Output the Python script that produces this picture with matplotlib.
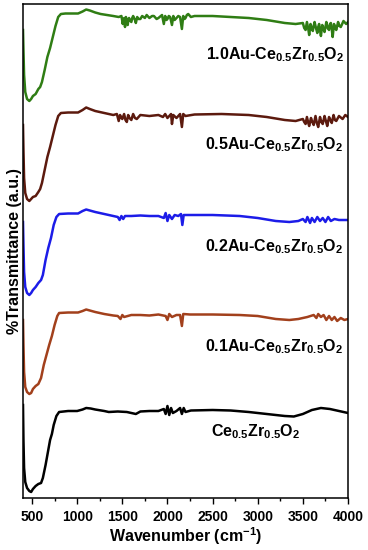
import numpy as np
import matplotlib
matplotlib.use("Agg")
import matplotlib.pyplot as plt
from matplotlib.ticker import MultipleLocator

plt.rcParams['font.family'] = ['Liberation Sans', 'DejaVu Sans']
plt.rcParams['font.weight'] = 'bold'
plt.rcParams['mathtext.fontset'] = 'custom'
plt.rcParams['mathtext.rm'] = 'Liberation Sans:bold'
plt.rcParams['mathtext.it'] = 'Liberation Sans:bold'
plt.rcParams['mathtext.bf'] = 'Liberation Sans:bold'

# Curves read as depth below the top of the frame (stacked, arbitrary units)
w_10 = [400, 405, 412, 425, 445, 470, 490, 510, 540, 570, 590, 610, 640, 670, 700, 730, 760, 790, 820, 870, 950, 1010, 1060, 1100, 1140, 1200, 1260, 1330, 1400, 1460,
        1490, 1500, 1505, 1510, 1515, 1522, 1530, 1535, 1540, 1550, 1560, 1568, 1575, 1590, 1600, 1610, 1620, 1640, 1650, 1665, 1680, 1700, 1720, 1750, 1770, 1800, 1830, 1850, 1880, 1900, 1940, 1960, 1975, 1990, 2000, 2015, 2030, 2050, 2065, 2080, 2100, 2120, 2140, 2160, 2175, 2190, 2200, 2215, 2230, 2260,
        2300, 2500, 2700, 2900, 3100, 3300, 3420, 3500, 3515, 3530, 3545, 3560, 3570, 3585, 3600, 3610, 3620, 3630, 3645, 3660, 3670, 3680, 3690, 3700, 3715, 3730, 3740, 3760, 3775, 3790, 3800, 3810, 3820, 3830, 3845, 3860, 3870, 3890, 3905, 3920, 3950, 3980, 4000]
d_10 = [30, 50, 75, 92, 99, 101, 99, 96, 94, 89, 87, 82, 70, 57, 48, 37, 26, 17, 14, 13.5, 13.5, 13.5, 11.5, 9.5, 10.5, 12.5, 14, 15, 16, 17,
        16, 21, 24, 19, 23, 18, 27, 20, 17, 22, 25, 19, 18, 21, 22, 18, 16, 20, 23, 17, 19, 19, 16, 18, 15, 18, 16, 16, 19, 18, 15, 24, 16, 20, 19, 16, 17, 25, 16, 20, 18, 16, 17, 29, 16, 19, 18, 15, 14, 17,
        16, 16, 17, 18, 20, 23, 24, 23, 28, 30, 22, 29, 35, 24, 29, 31, 26, 22, 28, 33, 27, 24, 30, 36, 25, 29, 32, 22, 28, 30, 24, 23, 29, 37, 24, 28, 30, 22, 26, 27, 21, 24, 22]

w_05 = [400, 405, 412, 425, 445, 470, 490, 510, 540, 570, 590, 610, 640, 670, 700, 730, 760, 790, 820, 900, 1010, 1060, 1100, 1140, 1200, 1300, 1400,
        1440, 1460, 1475, 1490, 1500, 1520, 1535, 1550, 1565, 1580, 1600, 1620, 1640, 1660, 1700, 1800, 1900, 1950, 1975, 2000, 2040, 2050, 2065, 2100, 2140, 2160, 2175, 2200,
        2300, 2600, 2900, 3100, 3300, 3420, 3500, 3515, 3530, 3545, 3560, 3570, 3590, 3605, 3620, 3640, 3655, 3670, 3690, 3705, 3720, 3740, 3755, 3770, 3790, 3805, 3820, 3840, 3855, 3870, 3900, 3940, 3970, 4000]
d_05 = [125, 150, 178, 193, 199, 201, 199, 197, 196, 192, 189, 183, 170, 157, 147, 136, 125, 116, 113, 112.5, 112.5, 110, 107.5, 109, 111, 113, 115,
        114, 121, 115, 118, 119, 114, 120, 122, 115, 118, 120, 114, 118, 119, 115, 116, 115, 117, 114, 118, 114, 124, 115, 118, 114, 127, 114, 116,
        114.5, 114, 115, 117, 120, 121, 119, 122, 124, 117, 123, 126, 118, 122, 125, 116, 123, 127, 117, 122, 124, 116, 121, 126, 117, 120, 123, 115, 120, 121, 116, 119, 115, 117]

w_02 = [400, 405, 412, 425, 445, 470, 490, 510, 540, 570, 600, 620, 650, 680, 710, 740, 770, 800, 900, 1010, 1060, 1100, 1140, 1200, 1300, 1400,
        1450, 1470, 1490, 1510, 1530, 1600, 1700, 1800, 1900, 1960, 1980, 2000, 2020, 2050, 2080, 2120, 2150, 2165, 2180, 2250,
        2500, 2800, 3000, 3200, 3350, 3450, 3500, 3530, 3550, 3580, 3600, 3630, 3660, 3690, 3720, 3750, 3780, 3810, 3850, 3900, 3950, 4000]
d_02 = [222, 245, 272, 287, 293, 295, 293, 290, 287, 283, 280, 275, 260, 248, 238, 225, 217, 214, 213.5, 213.5, 211, 209.5, 210.5, 212, 214, 216,
        217, 220, 216, 219, 216, 216, 215.5, 216, 216, 218, 213, 221, 215, 219, 215, 216, 214, 225, 215, 215,
        215, 216, 218, 221, 222, 221, 219, 222, 217, 223, 218, 222, 217, 221, 218, 222, 217, 221, 219, 220, 220, 220]

w_01 = [400, 405, 412, 425, 445, 470, 490, 510, 540, 570, 600, 630, 660, 690, 720, 750, 780, 800, 900, 1010, 1060, 1100, 1140, 1200, 1300, 1400,
        1450, 1480, 1500, 1520, 1600, 1700, 1800, 1900, 1980, 2000, 2020, 2050, 2100, 2140, 2160, 2175, 2250,
        2500, 2800, 3000, 3200, 3350, 3450, 3550, 3620, 3650, 3670, 3700, 3730, 3760, 3790, 3820, 3850, 3880, 3920, 3960, 4000]
d_01 = [320, 345, 372, 387, 392, 394, 393, 389, 386, 384, 378, 365, 355, 345, 336, 325, 316, 313, 312.5, 312.5, 311, 309.5, 310.5, 312, 314, 315.5,
        316, 319, 315, 317, 315, 315, 315.5, 314.5, 316, 320, 314, 317, 315, 315, 326, 314, 314.5,
        314.5, 315, 316, 319, 320, 319, 317, 315, 318, 314, 317, 315, 320, 316, 320, 317, 321, 318, 320, 319]

w_00 = [400, 405, 412, 425, 445, 470, 490, 510, 540, 570, 600, 620, 650, 680, 700, 720, 740, 770, 800, 900, 1000, 1060, 1100, 1150, 1200, 1300, 1350,
        1450, 1550, 1650, 1700, 1800, 1900, 1960, 1980, 2000, 2020, 2040, 2060, 2100, 2140, 2160, 2180, 2200, 2260,
        2500, 2700, 2900, 3100, 3300, 3400, 3500, 3600, 3700, 3800, 3900, 4000]
d_00 = [405, 440, 468, 482, 488, 491, 492, 489, 486, 484, 483, 478, 465, 450, 440, 434, 425, 416, 412, 411, 411, 409.5, 408, 408.5, 409.5, 411, 412,
        411.5, 412, 414, 411.5, 411, 411, 409, 414, 406, 415, 408, 413, 411, 408, 414, 408, 412, 410.5,
        410, 410.5, 412, 414, 416, 416.5, 414, 410, 408, 409, 411, 413]

labels = [r"1.0Au-Ce$_{0.5}$Zr$_{0.5}$O$_{2}$",
          r"0.5Au-Ce$_{0.5}$Zr$_{0.5}$O$_{2}$",
          r"0.2Au-Ce$_{0.5}$Zr$_{0.5}$O$_{2}$",
          r"0.1Au-Ce$_{0.5}$Zr$_{0.5}$O$_{2}$",
          r"Ce$_{0.5}$Zr$_{0.5}$O$_{2}$"]
series = [(w_10, d_10), (w_05, d_05), (w_02, d_02), (w_01, d_01), (w_00, d_00)]
colors = ["#2f7d14", "#5c1a0e", "#1c1ce8", "#a2401c", "#000000"]
label_pos = [(3955, 55), (3950, 145), (3950, 247), (3950, 347), (3465, 432)]

fig = plt.figure(figsize=(3.68, 5.5), dpi=100)
ax = fig.add_axes([23/368, 1-498/550, 325/368, 494/550])

for (w, d), c in zip(series, colors):
    ax.plot(w, 500 - np.array(d), color=c, lw=1.8, solid_joinstyle='round')

for lab, (x, y), in zip(labels, label_pos):
    ax.text(x, 500 - y, lab, ha='right', va='center', fontsize=11.5, fontweight='bold', color='black')

ax.set_xlim(400, 4000)
ax.set_ylim(2, 496)
ax.set_yticks([])
ax.xaxis.set_major_locator(MultipleLocator(500))
ax.xaxis.set_minor_locator(MultipleLocator(250))
ax.tick_params(axis='x', which='major', direction='out', length=4.5, width=1.0, labelsize=10, pad=4)
ax.tick_params(axis='x', which='minor', direction='out', length=2.5, width=1.0)
for lab in ax.get_xticklabels():
    lab.set_fontweight('bold')
for s in ax.spines.values():
    s.set_linewidth(1.1)
ax.set_xlabel(r"Wavenumber (cm$^{-1}$)", fontsize=11.5, fontweight='bold', labelpad=1)
ax.set_ylabel("%Transmittance (a.u.)", fontsize=11.5, fontweight='bold', labelpad=1)

fig.savefig("out.png", dpi=100)
